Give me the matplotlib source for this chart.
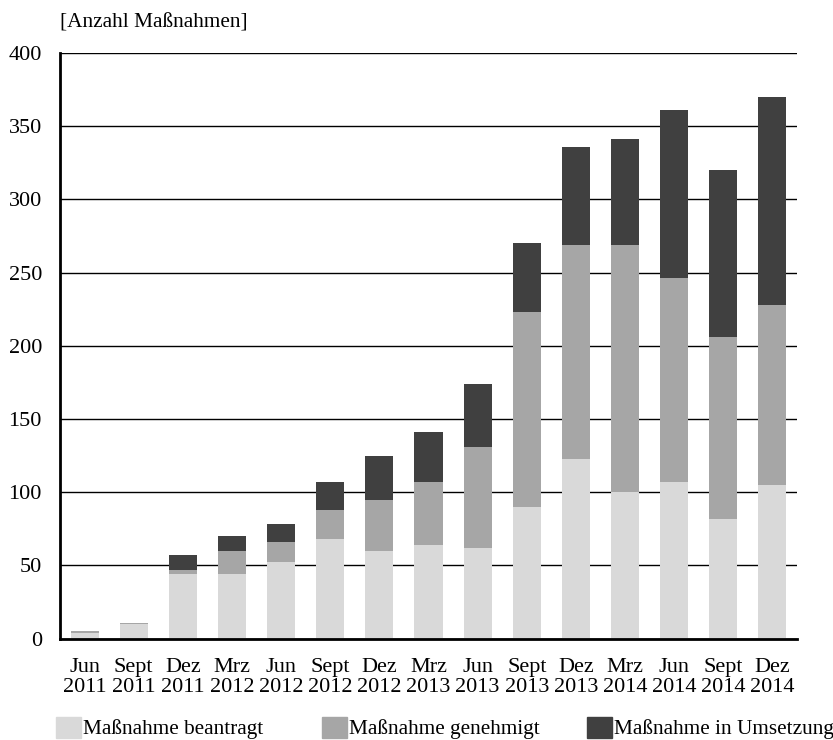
import matplotlib.pyplot as plt
import matplotlib.patches as mpatches
import numpy as np

plt.rcParams['font.family'] = ['Liberation Serif', 'DejaVu Serif']

# Quartals-Stichtage
months = ['Jun', 'Sept', 'Dez', 'Mrz', 'Jun', 'Sept', 'Dez', 'Mrz', 'Jun',
          'Sept', 'Dez', 'Mrz', 'Jun', 'Sept', 'Dez']
years = ['2011', '2011', '2011', '2012', '2012', '2012', '2012', '2013', '2013',
         '2013', '2013', '2014', '2014', '2014', '2014']

beantragt = [4, 10, 44, 44, 52, 68, 60, 64, 62, 90, 123, 100, 107, 82, 105]
genehmigt = [1, 1, 3, 16, 14, 20, 35, 43, 69, 133, 146, 169, 139, 124, 123]
umsetzung = [0, 0, 10, 10, 12, 19, 30, 34, 43, 47, 67, 72, 115, 114, 142]

series_names = ['Maßnahme beantragt', 'Maßnahme genehmigt', 'Maßnahme in Umsetzung']
colors = ['#d9d9d9', '#a6a6a6', '#404040']

fig = plt.figure(figsize=(8.33, 7.4), dpi=100)
ax = fig.add_axes([60 / 833, 0.137, 737 / 833, 0.7915])

x = np.arange(len(months))
width = 0.57
bottom = np.zeros(len(x))
handles = []
for vals, name, col in zip([beantragt, genehmigt, umsetzung], series_names, colors):
    vals = np.array(vals)
    ax.bar(x, vals, width, bottom=bottom, color=col, zorder=2)
    bottom += vals
    handles.append(mpatches.Patch(color=col, label=name))

ax.set_xlim(-0.5, len(x) - 0.5)
ax.set_ylim(0, 400)
ax.set_yticks(np.arange(0, 401, 50))
ax.yaxis.grid(True, color='black', linewidth=1.0, zorder=0)
ax.set_axisbelow(True)

ax.set_xticks(x)
ax.set_xticklabels([f'{m}\n{y}' for m, y in zip(months, years)], fontsize=16,
                   linespacing=1.1)
ax.tick_params(axis='both', length=0, labelsize=16)
ax.tick_params(axis='x', pad=14)
ax.tick_params(axis='y', pad=13)

for side in ['top', 'right']:
    ax.spines[side].set_visible(False)
for side in ['left', 'bottom']:
    ax.spines[side].set_linewidth(2)

fig.text(60 / 833, 1 - 23 / 740, '[Anzahl Maßnahmen]', fontsize=15.3,
         ha='left', va='center')

# Legende: drei einzelne Einträge nebeneinander
for h, xpos in zip(handles, [56, 322, 587]):
    fig.legend(handles=[h], loc='center left',
               bbox_to_anchor=(xpos / 833, 1 - 728 / 740), frameon=False,
               fontsize=15.3, handlelength=1.18, handleheight=1.18,
               handletextpad=0.1, borderaxespad=0, borderpad=0)

plt.savefig('out.png', dpi=100)
